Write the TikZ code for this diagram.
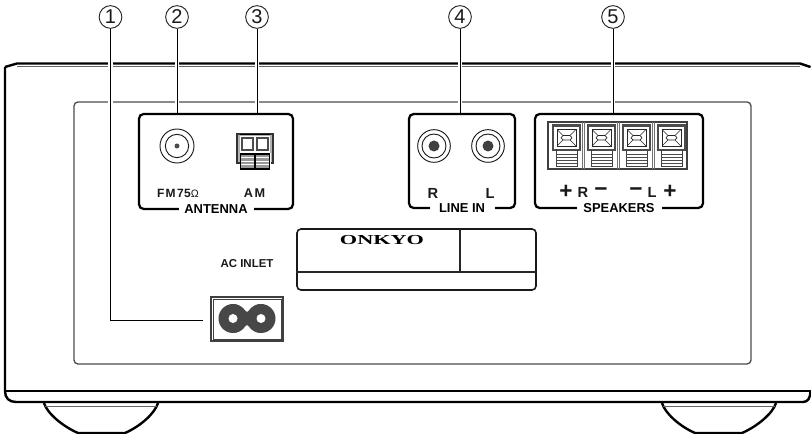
\documentclass[tikz,border=0pt]{standalone}
\usepackage{fontspec}
\setmainfont{Liberation Sans}
\newfontfamily\onkyofont{Liberation Serif}
\tikzset{
  outline/.style={draw=black,line width=1.8pt},
  panelline/.style={draw=black!70,line width=1pt,rounded corners=3pt},
  groupbox/.style={draw=black,line width=1.7pt,rounded corners=3.5pt,inner sep=0pt},
  grouplabel/.style={fill=white,font=\bfseries\fontsize{9.7pt}{10pt}\selectfont,inner sep=0pt,text height=7pt,text depth=0pt},
  smalllabel/.style={font=\bfseries\fontsize{9pt}{10pt}\selectfont,inner sep=0pt,text=black!90},
  biglabel/.style={font=\bfseries\fontsize{11pt}{11pt}\selectfont,inner sep=0pt,text=black!90},
  signlabel/.style={font=\bfseries\fontsize{17pt}{17pt}\selectfont,inner sep=0pt,text=black!90},
  callout/.style={draw=black!85,circle,line width=0.7pt,minimum size=17pt,inner sep=0pt,font=\fontsize{15pt}{15pt}\selectfont,text=black!90},
  leader/.style={draw=black,line width=0.7pt},
  halo/.style={draw=white,line width=3.6pt},
  ringline/.style={draw=black!90,line width=0.7pt}
}
\begin{document}
\begin{tikzpicture}[x=0.75pt,y=-0.75pt]
\useasboundingbox (0,0) rectangle (811,434);
% feet
\foreach \a/\b/\c/\d in {44/78/125/158,662/695/742/776}{
  \draw[outline] (\a,403) .. controls (\a+3,413) and (\b-16,426) .. (\b,433) -- (\c,433) .. controls (\c+16,426) and (\d-3,413) .. (\d,403);
  \draw[draw=black!60,line width=0.75pt] (\a+1,407) -- (\d-1,407);
}
% body
\draw[outline,line join=round] (5,67) -- (17,63.5) -- (800,63.5) -- (810.5,67);
\draw[draw=black!60,line width=0.75pt] (17,67) -- (800,67);
\draw[outline] (5,67) -- (5,391) .. controls (5,398) and (9,402) .. (16,402) -- (803,402) .. controls (808,402) and (810,398) .. (810.5,392);
\draw[draw=black,line width=1pt] (5,391) -- (811,391);
% inner panel
\node[panelline,minimum width=507.75pt,minimum height=196.5pt,inner sep=0pt] (panel) at (412.5,233) {};
% group boxes
\node[groupbox,minimum width=115.5pt,minimum height=71.25pt] (antenna) at (216,161.5) {};
\node[groupbox,minimum width=79.5pt,minimum height=70.5pt] (linein) at (462,161) {};
\node[groupbox,minimum width=126pt,minimum height=70.5pt] (speakers) at (619,161) {};
\node[grouplabel,minimum width=56.25pt] (antlabel) at (216,209) {ANTENNA};
\node[grouplabel,minimum width=48.75pt] (linelabel) at (462,208) {LINE IN};
\node[grouplabel,minimum width=63.75pt] (spklabel) at (619,208) {SPEAKERS};
% FM connector
\node[ringline,circle,minimum size=25.5pt,inner sep=0pt] (fm) at (177,146) {};
\node[ringline,circle,minimum size=17.5pt,inner sep=0pt] at (177,146) {};
\fill[black!70] (177,146) circle (2.5);
\node[smalllabel] (fmlabel) at (178,193) {F\kern0.8pt M\kern1.2pt 7\kern0.3pt 5{\mdseries\fontsize{8pt}{8pt}\selectfont Ω}};
% AM terminal
\node[draw=black!80,fill=black!30,line width=0.9pt,minimum width=27pt,minimum height=21.75pt,inner sep=0pt] (am) at (255,148.5) {};
\foreach \x in {242,257}{
  \fill[white] (\x-2,136) rectangle (\x+13,153);
  \draw[draw=black!70,line width=1.5pt,fill=white] (\x,138.5) rectangle (\x+11,150.5);
  \fill[white] (\x-2.5,153) rectangle (\x+13.5,170);
  \draw[draw=black,line width=0.9pt,fill=black!40] (\x-1.5,154) rectangle (\x+12.5,169);
  \foreach \y in {157.5,161,164.5}{\draw[white,line width=0.7pt] (\x-1,\y) -- (\x+12,\y);}
}
\draw[draw=black,line width=0.8pt] (240,134.5) -- (270,134.5);
\node[smalllabel,font=\bfseries\fontsize{9.5pt}{10pt}\selectfont] (amlabel) at (254.5,193) {A\kern1.2pt M};
% RCA
\foreach \n/\x in {rcar/434,rcal/488}{
  \node[ringline,circle,minimum size=24.5pt,inner sep=0pt] (\n) at (\x,146) {};
  \node[ringline,circle,minimum size=18pt,inner sep=0pt] at (\x,146) {};
  \fill[black!75] (\x,146) circle (5.5);
}
\node[biglabel] (rlabel) at (433,193) {R};
\node[biglabel] (llabel) at (490,193) {L};
% speaker terminals
\node[draw=black!75,line width=1pt,minimum width=104.25pt,minimum height=35.25pt,inner sep=0pt] (block) at (617.5,145.5) {};
\foreach \x in {552,587,622,657}{
  \draw[draw=black!70,line width=1.6pt] (\x+1,125.5) rectangle (\x+28,150);
  \draw[draw=black!85,line width=0.6pt] (\x+5,129.5) rectangle (\x+24,146);
  \draw[draw=black!85,line width=0.5pt] (\x+5,129.5) -- (\x+11,135.5) (\x+24,129.5) -- (\x+18,135.5) (\x+5,146) -- (\x+11,140) (\x+24,146) -- (\x+18,140);
  \draw[draw=black!85,line width=0.5pt] (\x+11,135.5) -- (\x+18,135.5) -- (\x+20,137.8) -- (\x+18,140) -- (\x+11,140) -- (\x+9,137.8) -- cycle;
  \draw[draw=black!75,line width=0.7pt] (\x+4,150) -- (\x+4,166) -- (\x+25,166) -- (\x+25,150);
  \foreach \y in {154,157,160,163}{\draw[draw=black!70,line width=0.6pt] (\x+4,\y) -- (\x+25,\y);}
}
\foreach \x in {583.5,618.5,653.5}{
  \draw[draw=black!55,line width=0.5pt] (\x-1,122) -- (\x-1,169) (\x+1,122) -- (\x+1,169);
}
\node[signlabel] (splus1) at (566,192) {+};
\node[biglabel] (sr) at (583,192) {R};
\node[signlabel] (sminus1) at (601,192) {−};
\node[signlabel] (sminus2) at (636,192) {−};
\node[biglabel] (sl) at (652,192) {L};
\node[signlabel] (splus2) at (670,192) {+};
% nameplate
\node[draw=black!90,line width=1.2pt,rounded corners=3pt,minimum width=179.25pt,minimum height=45.75pt,inner sep=0pt] (plate) at (416.5,259.5) {};
\draw[draw=black!85,line width=0.8pt] (plate.west |- 0,272) -- (plate.east |- 0,272);
\draw[draw=black!85,line width=0.8pt] (460,229.5) -- (460,272);
\node[inner sep=0pt,font=\onkyofont\bfseries\fontsize{10.3pt}{10pt}\selectfont] (onkyo) at (382,240.5) {\scalebox{1.62}[1]{ONKYO}};
\node[smalllabel,font=\bfseries\fontsize{8.6pt}{10pt}\selectfont] (aclabel) at (247,264) {AC INLET};
% AC inlet
\node[draw=black!75,line width=0.8pt,minimum width=54pt,minimum height=33pt,inner sep=0pt] (inlet) at (247,319) {};
\draw[draw=black!75,line width=0.6pt] (213,299) rectangle (281,339);
\fill[black!72] (233,318.5) circle (14.5);
\fill[black!72] (261,318.5) circle (14.5);
\fill[black!72] (236,304.2) -- (247,312) -- (258,304.2) -- (258,332.8) -- (247,325) -- (236,332.8) -- cycle;
\fill[white] (233,318.5) circle (4.5);
\fill[white] (261,318.5) circle (4.5);
% callouts
\node[callout] (c1) at (110.5,17) {1};
\node[callout] (c2) at (177,17) {2};
\node[callout] (c3) at (257,17) {3};
\node[callout] (c4) at (460,17) {4};
\node[callout] (c5) at (613,17) {5};
\coordinate (c1end) at (203,320);
\coordinate (c1bend) at (c1.south |- c1end);
\draw[halo] ([yshift=-22pt]c1.south) -- ([yshift=-60pt]c1.south);
\foreach \n in {c2,c3,c4,c5}{
  \draw[halo] ([yshift=-22pt]\n.south) -- ([yshift=-35pt]\n.south);
  \draw[halo] ([yshift=-48pt]\n.south) -- ([yshift=-56pt]\n.south);
}
\draw[leader] (c1.south) -- (c1bend) -- (c1end);
\draw[leader] (c2.south) -- (c2.south |- antenna.north);
\draw[leader] (c3.south) -- (c3.south |- antenna.north);
\draw[leader] (c4.south) -- (c4.south |- linein.north);
\draw[leader] (c5.south) -- (c5.south |- speakers.north);
\end{tikzpicture}
\end{document}
